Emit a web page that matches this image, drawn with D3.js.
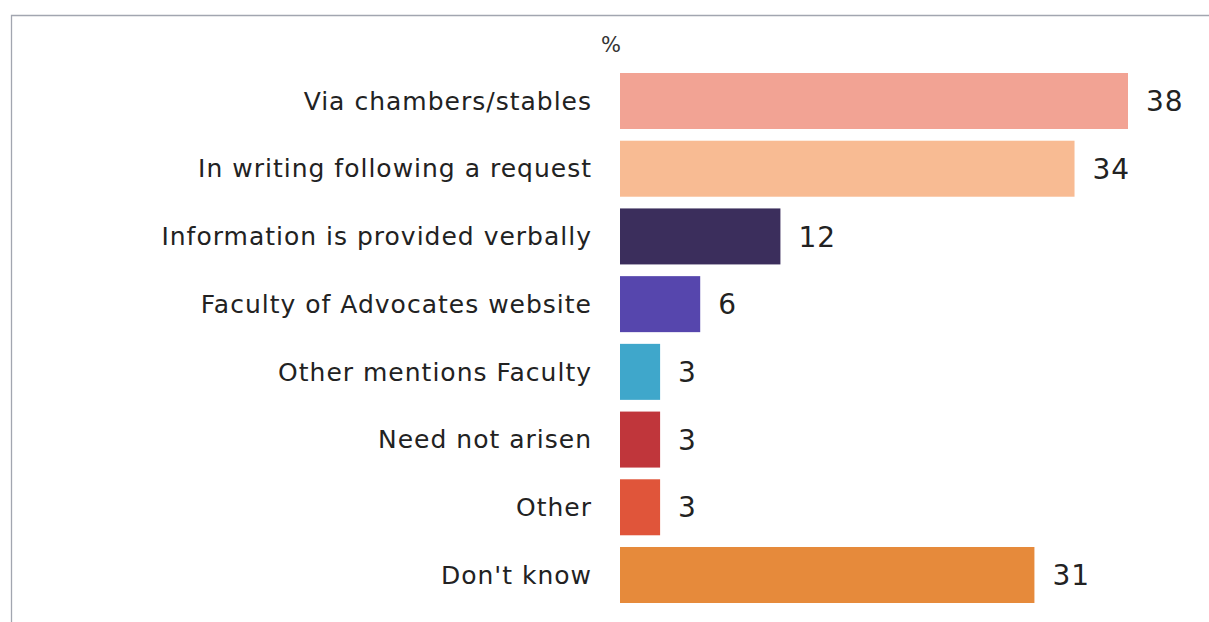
<!DOCTYPE html>
<html>
<head>
<meta charset="utf-8">
<script src="https://cdn.jsdelivr.net/npm/d3@7"></script>
<style>
  body { margin: 0; background: #fff; }
  svg { display: block; }
</style>
</head>
<body>
<div id="chart"></div>
<script>
// data
const categories = [
  "Via chambers/stables",
  "In writing following a request",
  "Information is provided verbally",
  "Faculty of Advocates website",
  "Other mentions Faculty",
  "Need not arisen",
  "Other",
  "Don't know"
];
const values = [38, 34, 12, 6, 3, 3, 3, 31];
const colors = ["#f2a394", "#f8bb93", "#3b2e5c", "#5646ad", "#3fa7cb", "#c0363b", "#e0553a", "#e68a3b"];

const width = 1209, height = 622;

const svg = d3.select("#chart")
  .append("svg")
    .attr("width", width)
    .attr("height", height);

// frame line around the figure (runs off right and bottom)
svg.append("path")
  .attr("d", `M11.5,${height} V15.5 H${width}`)
  .attr("fill", "none")
  .attr("stroke", "#a2a6b0")
  .attr("stroke-width", 1.3);

const x = d3.scaleLinear()
  .domain([0, 38])
  .range([620, 1128]);

const y = d3.scaleBand()
  .domain(categories)
  .range([67.15, 608.85])
  .paddingInner(0.173)
  .paddingOuter(0.0865);

const data = categories.map((c, i) => ({cat: c, value: values[i], color: colors[i]}));

// percent marker
svg.append("text")
  .attr("x", 611)
  .attr("y", 52)
  .attr("text-anchor", "middle")
  .style("font-family", "DejaVu Sans, Verdana, sans-serif")
  .style("font-size", "21px")
  .attr("fill", "#333")
  .text("%");

// bars
svg.selectAll("rect.bar")
  .data(data)
  .enter()
  .append("rect")
    .attr("class", "bar")
    .attr("x", x(0))
    .attr("y", d => y(d.cat))
    .attr("width", d => x(d.value) - x(0))
    .attr("height", y.bandwidth())
    .attr("fill", d => d.color);

// category labels
svg.selectAll("text.cat")
  .data(data)
  .enter()
  .append("text")
    .attr("class", "cat")
    .attr("x", 592)
    .attr("y", d => y(d.cat) + y.bandwidth() / 2)
    .attr("dy", "0.35em")
    .attr("text-anchor", "end")
    .style("font-family", "DejaVu Sans, Verdana, sans-serif")
    .style("font-size", "25px")
    .style("letter-spacing", "1px")
    .attr("fill", "#222")
    .text(d => d.cat);

// value labels
svg.selectAll("text.val")
  .data(data)
  .enter()
  .append("text")
    .attr("class", "val")
    .attr("x", d => x(d.value) + 18)
    .attr("y", d => y(d.cat) + y.bandwidth() / 2)
    .attr("dy", "0.36em")
    .style("font-family", "DejaVu Sans, Verdana, sans-serif")
    .style("font-size", "28px")
    .style("letter-spacing", "1px")
    .attr("fill", "#222")
    .text(d => d.value);
</script>
</body>
</html>
